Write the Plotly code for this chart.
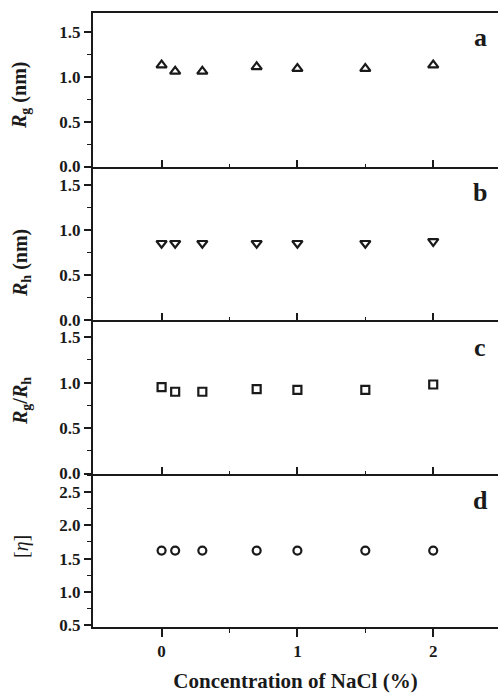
import plotly.graph_objects as go
from plotly.subplots import make_subplots

# ---- data ----
nacl = [0, 0.1, 0.3, 0.7, 1.0, 1.5, 2.0]
rg = [1.13, 1.06, 1.06, 1.11, 1.09, 1.09, 1.13]
rh = [0.85, 0.85, 0.85, 0.85, 0.85, 0.85, 0.87]
rg_rh = [0.95, 0.90, 0.90, 0.93, 0.92, 0.92, 0.98]
eta = [1.62, 1.62, 1.62, 1.62, 1.62, 1.62, 1.62]

panel_letters = ["a", "b", "c", "d"]
y_titles = ["<b><i>R</i><sub>g</sub> (nm)</b>",
            "<b><i>R</i><sub>h</sub> (nm)</b>",
            "<b><i>R</i><sub>g</sub>/<i>R</i><sub>h</sub></b>",
            "[<i>η</i>]"]
x_title = "<b>Concentration of NaCl (%)</b>"
x_ticks = [0, 1, 2]

# ---- styling ----
W, H = 498, 693
L, R, T, B = 93, 0, 13, 66
INK = "#1a1a1a"
SERIF = "Liberation Serif, Times New Roman, serif"

fig = make_subplots(rows=4, cols=1, shared_xaxes=True, vertical_spacing=0)

series = [rg, rh, rg_rh, eta]
symbols = ["triangle-up-open", "triangle-down-open", "square-open", "circle-open"]
sizes = [9, 9, 8, 8]
for i, (ys, sym, sz) in enumerate(zip(series, symbols, sizes)):
    fig.add_trace(go.Scatter(x=nacl, y=ys, mode="markers",
                             marker=dict(symbol=sym, size=sz, color=INK,
                                         line=dict(width=2.2, color=INK)),
                             showlegend=False, cliponaxis=False),
                  row=i + 1, col=1)

tickfont = dict(family=SERIF, size=17, color=INK, weight="bold")
yranges = [[0, 1.71], [0, 1.70], [0, 1.69], [0.47, 2.78]]
for i in range(4):
    fig.update_yaxes(row=i + 1, col=1, range=yranges[i], showline=True,
                     linecolor=INK, linewidth=2, mirror=False,
                     ticks="outside", ticklen=7, tickwidth=1.5, tickcolor=INK,
                     dtick=0.5, tick0=0, tickformat=".1f",
                     tickfont=tickfont, showgrid=False, zeroline=False,
                     minor=dict(ticks="outside", ticklen=4, tickwidth=1.2,
                                tickcolor=INK, dtick=0.25, showgrid=False))
    last = (i == 3)
    fig.update_xaxes(row=i + 1, col=1, range=[-0.505, 2.477], showline=True,
                     linecolor=INK, linewidth=2,
                     mirror=True if i == 0 else False,
                     ticks="outside" if last else "inside",
                     ticklen=8 if last else 7, tickwidth=1.5, tickcolor=INK,
                     tickvals=x_ticks, ticktext=[str(v) for v in x_ticks],
                     showticklabels=last, tickfont=tickfont,
                     showgrid=False, zeroline=False,
                     minor=dict(ticks="outside" if last else "inside",
                                ticklen=4 if last else 3, tickwidth=1.2,
                                tickcolor=INK, tickvals=[0.5, 1.5],
                                showgrid=False))

fig.update_xaxes(row=4, col=1, title=dict(text=x_title,
                 font=dict(family=SERIF, size=21, color=INK), standoff=13))

PW = W - L - R
PH = H - T - B


def px_x(px):
    return (px - L) / PW


def px_y(py):
    return (H - B - py) / PH


title_centers = [96, 263, 401, 547]
for txt, cy in zip(y_titles, title_centers):
    fig.add_annotation(text=txt, xref="paper", yref="paper",
                       x=px_x(21), y=px_y(cy), xanchor="center", yanchor="middle",
                       textangle=-90, showarrow=False,
                       font=dict(family=SERIF, size=20, color=INK))

letter_centers = [37, 192, 347, 500]
for txt, cy in zip(panel_letters, letter_centers):
    fig.add_annotation(text=f"<b>{txt}</b>", xref="paper", yref="paper",
                       x=px_x(480), y=px_y(cy), xanchor="center", yanchor="middle",
                       showarrow=False,
                       font=dict(family=SERIF, size=26, color=INK))

fig.update_layout(width=W, height=H, margin=dict(l=L, r=R, t=T, b=B),
                  paper_bgcolor="white", plot_bgcolor="white")

fig.write_html("out.html", config={"displayModeBar": False},
               post_script="document.body.style.margin='0';"
                           "document.body.style.overflow='hidden';")
